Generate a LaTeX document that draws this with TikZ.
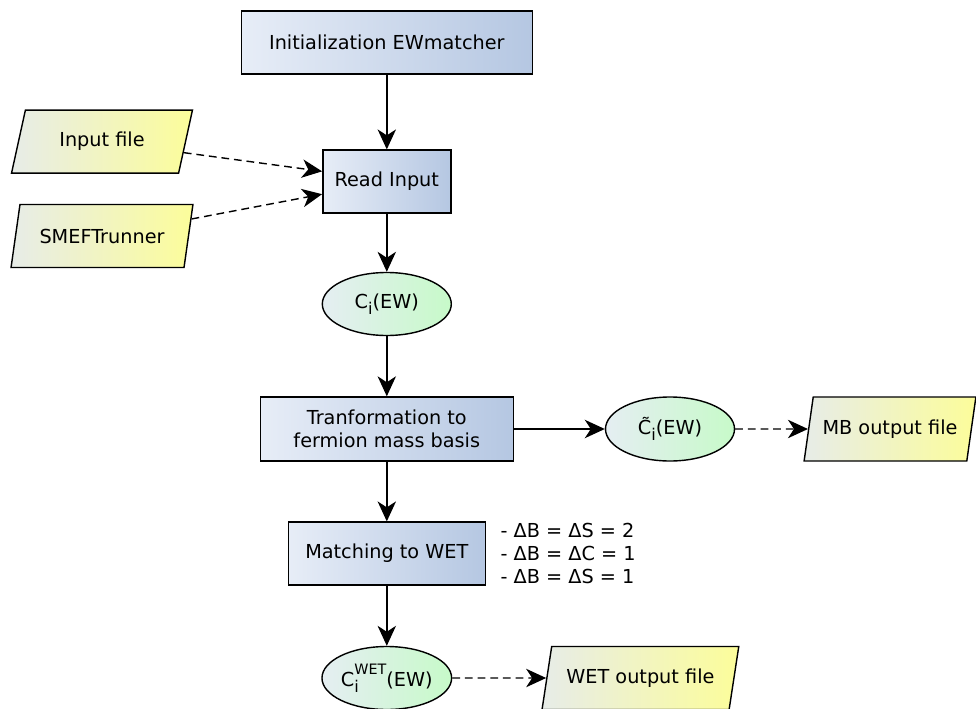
\documentclass[tikz,border=0pt]{standalone}
\usepackage{fontspec}
\setmainfont{DejaVu Sans}
\usepackage{tikz}
\usetikzlibrary{shapes.geometric,arrows.meta}
\definecolor{boxl}{HTML}{E7EDF7}
\definecolor{boxr}{HTML}{B5C7E2}
\definecolor{iol}{HTML}{E7ECE8}
\definecolor{ior}{HTML}{FCFD9A}
\definecolor{cfl}{HTML}{E5EEF2}
\definecolor{cfr}{HTML}{C7FAC9}
\newcommand{\lowi}{\raisebox{-4.2pt}{\fontsize{11.5}{11.5}\selectfont i}}
\newcommand{\upwet}{\raisebox{8.4pt}{\fontsize{10.2}{10.2}\selectfont WET}}

\begin{document}
\begin{tikzpicture}[font=\fontsize{13.7}{16.6}\selectfont,
    proc/.style={draw, line width=1pt, rectangle, left color=boxl, right color=boxr, minimum height=1.575cm, align=center},
    data/.style={draw, line width=1pt, trapezium, trapezium left angle=73, trapezium right angle=107, trapezium stretches=true, minimum width=4.55cm, minimum height=1.575cm, left color=iol, right color=ior},
    coef/.style={draw, line width=1pt, ellipse, inner sep=0pt, minimum width=3.225cm, minimum height=1.575cm, left color=cfl, right color=cfr},
    flow/.style={-{Stealth[length=5mm, width=4.6mm, inset=1.5mm]}, line width=1pt},
    feed/.style={flow, dash pattern=on 5.5pt off 3.5pt}]
    \useasboundingbox (0,0) rectangle (24.4,-17.7);
    \node[proc, minimum width=7.275cm] (init) at (9.67, -1.06) {Initialization EWmatcher};
    \node[proc, minimum width=3.2cm] (read) at (9.67, -4.54) {Read Input};
    \node[data] (infile) at (2.55, -3.54) {Input file};
    \node[data] (runner) at (2.55, -5.9) {SMEFTrunner};
    \node[coef] (cew) at (9.67, -7.6) {C\lowi(EW)};
    \node[proc, minimum width=6.325cm, minimum height=1.6cm] (trans) at (9.67, -10.725) {Tranformation to\\fermion mass basis};
    \node[coef, minimum height=1.6cm] (cmb) at (16.75, -10.725) {\~{C}\lowi(EW)};
    \node[data, minimum width=4.3cm, minimum height=1.6cm] (mbout) at (22.25, -10.725) {MB output file};
    \node[proc, minimum width=4.925cm] (match) at (9.67, -13.84) {Matching to WET};
    \node[anchor=west, align=left] (cuts) at (12.39, -13.84) {- ΔB = ΔS = 2\\- ΔB = ΔC = 1\\- ΔB = ΔS = 1};
    \node[coef] (cwet) at (9.67, -16.95) {C\rlap{\lowi}\upwet(EW)};
    \node[data, minimum width=4.925cm] (wetout) at (16.01, -16.95) {WET output file};
    \draw [flow] (init) to (read);
    \draw [feed] (infile) to (read.171);
    \draw [feed] (runner) to (read.191);
    \draw [flow] (read) to (cew);
    \draw [flow] (cew) to (trans);
    \draw [flow] (trans) to (cmb);
    \draw [feed] (cmb) to (mbout);
    \draw [flow] (trans) to (match);
    \draw [flow] (match) to (cwet);
    \draw [feed] (cwet) to (wetout);
\end{tikzpicture}
\end{document}
